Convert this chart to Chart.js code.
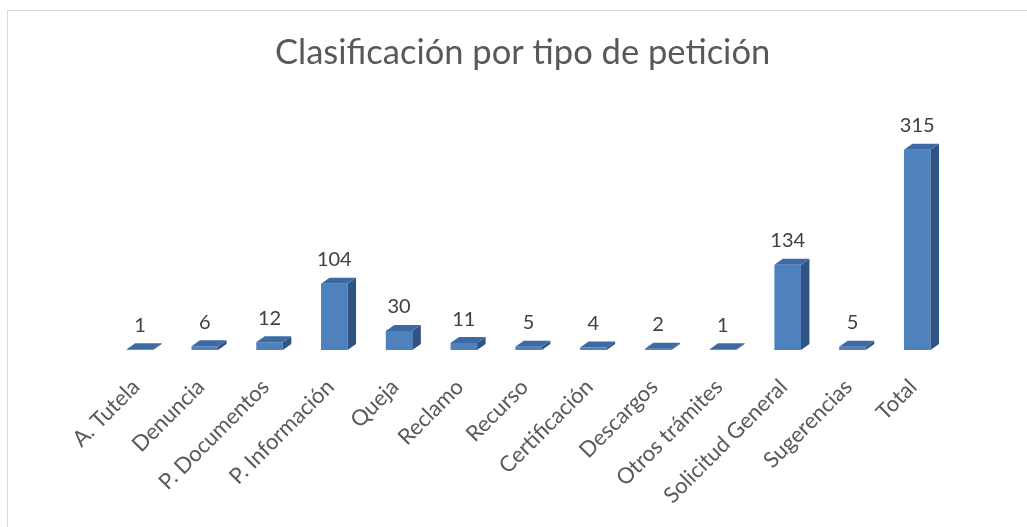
<!DOCTYPE html>
<html>
<head>
<meta charset="utf-8">
<script src="https://cdn.jsdelivr.net/npm/chart.js@4"></script>
<style>
  html, body { margin: 0; padding: 0; background: #fff; }
  #wrap { width: 1027px; height: 527px; }
</style>
</head>
<body>
<div id="wrap"><canvas id="bar-chart" width="1027" height="527"></canvas></div>
<script>
var categories = ["A. Tutela", "Denuncia", "P. Documentos", "P. Información", "Queja", "Reclamo",
  "Recurso", "Certificación", "Descargos", "Otros trámites", "Solicitud General", "Sugerencias", "Total"];
var values = [1, 6, 12, 104, 30, 11, 5, 4, 2, 1, 134, 5, 315];

var FRONT = "#4f81bd";
var TOP = "#3d6aa3";
var SIDE = "#2f5484";
var DX = 8.5, DY = 6;

// fake 3d: side + top faces, then the value labels
var bars3d = {
  id: "bars3d",
  beforeDraw: function(chart) {
    var ctx = chart.ctx;
    ctx.save();
    ctx.fillStyle = "#fff";
    ctx.fillRect(0, 0, chart.width, chart.height);
    ctx.strokeStyle = "#d9d9d9";
    ctx.lineWidth = 1;
    ctx.strokeRect(7.5, 10.5, 1100, 600);
    ctx.restore();
  },
  afterDatasetsDraw: function(chart) {
    var ctx = chart.ctx;
    var meta = chart.getDatasetMeta(0);
    ctx.save();
    meta.data.forEach(function(bar, i) {
      var l = bar.x - bar.width / 2, r = bar.x + bar.width / 2;
      var t = bar.y, b = bar.base;
      ctx.fillStyle = SIDE;
      ctx.beginPath();
      ctx.moveTo(r, t);
      ctx.lineTo(r + DX, t - DY);
      ctx.lineTo(r + DX, b - DY);
      ctx.lineTo(r, b);
      ctx.closePath();
      ctx.fill();
      ctx.fillStyle = TOP;
      ctx.beginPath();
      ctx.moveTo(l, t);
      ctx.lineTo(l + DX, t - DY);
      ctx.lineTo(r + DX, t - DY);
      ctx.lineTo(r, t);
      ctx.closePath();
      ctx.fill();

      ctx.fillStyle = "#404040";
      ctx.font = "20px Lato";
      ctx.textAlign = "center";
      ctx.textBaseline = "alphabetic";
      ctx.fillText(String(values[i]), bar.x, t - 17.5);
    });
    ctx.restore();
  }
};

var chart = new Chart(document.getElementById("bar-chart"), {
  type: "bar",
  data: {
    labels: categories,
    datasets: [{
      data: values,
      backgroundColor: FRONT,
      borderWidth: 0,
      barPercentage: 1,
      categoryPercentage: 0.41
    }]
  },
  options: {
    responsive: false,
    animation: false,
    events: [],
    layout: { padding: { left: 95.6, right: 77.4, top: 10, bottom: 0 } },
    plugins: {
      legend: { display: false },
      tooltip: { enabled: false },
      title: {
        display: true,
        text: "Clasificación por tipo de petición",
        color: "#595959",
        font: { family: "Lato", size: 34.5, weight: "normal" },
        padding: { top: 22.4, bottom: 53.6 }
      }
    },
    scales: {
      y: {
        min: 0, max: 350,
        grid: { display: false },
        border: { display: false },
        ticks: { display: false },
        afterFit: function(scale) { scale.width = 12; }
      },
      x: {
        grid: { display: false },
        border: { display: false },
        afterFit: function(scale) { scale.height = 177; },
        ticks: {
          color: "#595959",
          font: { family: "Lato", size: 22 },
          minRotation: 45,
          maxRotation: 45,
          padding: 16,
          labelOffset: -4
        }
      }
    }
  },
  plugins: [bars3d]
});
</script>
</body>
</html>
